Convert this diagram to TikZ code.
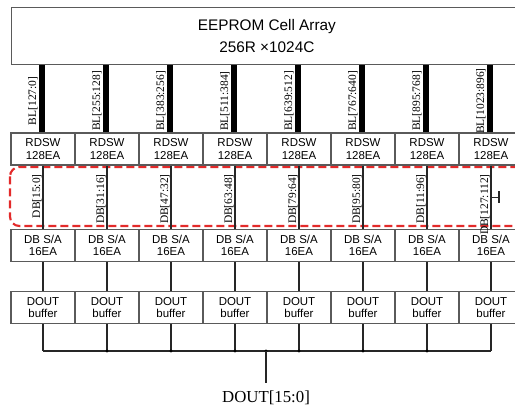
\documentclass[tikz,border=0pt]{standalone}
\usepackage{fontspec}
\setmainfont{Liberation Serif}
\setsansfont{Liberation Sans}
\usetikzlibrary{positioning,calc}
\definecolor{boxgray}{HTML}{5A5A5A}
\definecolor{dbred}{HTML}{E32A2A}
\tikzset{
  blk/.style={draw=boxgray, line width=0.8pt, minimum width=48pt, minimum height=24pt,
    inner sep=0pt, align=center, font=\sffamily\fontsize{8.6}{9.2}\selectfont},
  wire/.style={line width=0.9pt, draw=black!85},
  bitline/.style={line width=4.5pt},
  buslbl/.style={rotate=90, inner sep=0pt, font=\fontsize{8.6}{9}\selectfont},
  dbframe/.style={draw=dbred, line width=1.6pt, dash pattern=on 6pt off 3pt, rounded corners=7pt},
  jdot/.style={circle, fill=black, inner sep=0pt, minimum size=2.6pt},
}

\begin{document}
\begin{tikzpicture}[x=0.75pt, y=-0.75pt]
  \useasboundingbox (0,0) rectangle (515,409);
  \clip (0,0) rectangle (515,409);

  % cell array
  \node[blk, anchor=north west, minimum width=383pt, minimum height=42.75pt,
    font=\sffamily\fontsize{11.5}{16.5}\selectfont] (cell) at (11,7)
    {EEPROM Cell Array\\256R ×1024C};

  % DB area
  \draw[dbframe] (10,167) rectangle (540,226);

  % columns
  \foreach \i/\bl/\db in {0/{127:0}/{15:0}, 1/{255:128}/{31:16}, 2/{383:256}/{47:32},
      3/{511:384}/{63:48}, 4/{639:512}/{79:64}, 5/{767:640}/{95:80},
      6/{895:768}/{11:96}, 7/{1023:896}/{127:112}}{
    \node[blk] (rdsw\i) at (43+64*\i,149) {RDSW\\128EA};
    \node[blk] (sa\i) at (43+64*\i,245.5) {DB S/A\\16EA};
    \node[blk] (buf\i) at (43+64*\i,307.5) {DOUT\\buffer};
    % bit lines
    \draw[bitline] ([xshift=-0.75pt]rdsw\i.north) -- ([xshift=-0.75pt]rdsw\i.north |- cell.south);
    \node[buslbl] (bll\i) at (33+64*\i,101) {BL[\bl]};
    % data bus
    \draw[wire] (rdsw\i.south) -- (sa\i.north);
    \node[buslbl, anchor=east] (dbl\i) at (37+64*\i,174) {DB[\db]};
    \draw[wire] (sa\i.south) -- (buf\i.north);
    \coordinate (j\i) at (buf\i.south |- 0,351);
    \draw[wire] (buf\i.south) -- (j\i);
  }

  % stub on last bus
  \coordinate (tick) at ($(rdsw7.south)!0.5!(sa7.north)$);
  \draw[wire] (tick) -- ++(8,0) coordinate (tickend);
  \draw[wire] ($(tickend)+(0,-6)$) -- ($(tickend)+(0,6)$);

  % output bus
  \draw[wire] (j0) -- (j7);
  \foreach \i in {1,...,6}
    \node[jdot] at (j\i) {};
  \coordinate (jout) at (266,351);
  \coordinate (outend) at (266,383);
  \node[jdot] at (jout) {};
  \draw[wire] (jout) -- (outend);
  \node[anchor=base, inner sep=0pt, font=\fontsize{12.6}{14}\selectfont] (dout) at (266,403) {DOUT[15:0]};
\end{tikzpicture}
\end{document}
